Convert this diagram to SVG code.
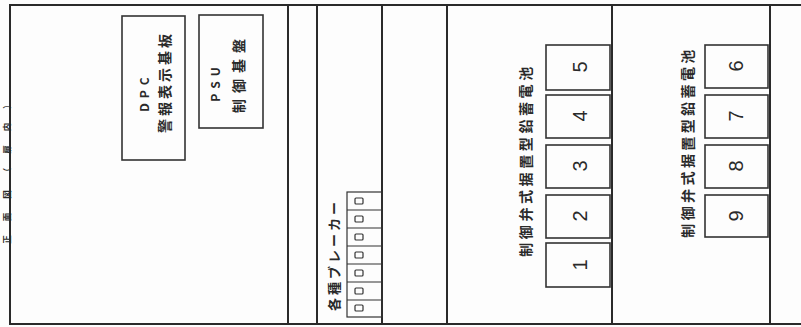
<svg xmlns="http://www.w3.org/2000/svg" width="801" height="327" viewBox="0 0 801 327">
<style>
.frame{fill:none;stroke:#2a2a2a;stroke-width:2}
.box{fill:none;stroke:#333;stroke-width:1.6}
.cell{fill:none;stroke:#333;stroke-width:1.2}
.jp{font-family:"Noto Sans CJK JP","Noto Sans",sans-serif;font-weight:700;fill:#2a2a2a;text-anchor:middle;dominant-baseline:central}
.num{font-family:"Liberation Sans","DejaVu Sans",sans-serif;font-size:20px;fill:#2a2a2a;text-anchor:middle;dominant-baseline:central}
</style>
<rect x="0" y="0" width="801" height="327" fill="#fdfdfd"/>
<g id="title">
<text class="jp" x="5.5" y="165" font-size="8.5" letter-spacing="14" transform="rotate(-90 5.5 165)">正面図（扉内）</text>
</g>
<g id="frame">
<polyline class="frame" points="801,5 10,5 10,324 801,324"/>
<line class="frame" x1="288" y1="5" x2="288" y2="324"/>
<line class="frame" x1="317" y1="5" x2="317" y2="324"/>
<line class="frame" x1="382" y1="5" x2="382" y2="324"/>
<line class="frame" x1="447" y1="5" x2="447" y2="324"/>
<line class="frame" x1="612" y1="5" x2="612" y2="324"/>
<line class="frame" x1="770" y1="5" x2="770" y2="324"/>
</g>
<g id="dpc">
<rect class="box" x="122" y="16" width="63" height="144"/>
<text class="jp" x="143" y="92" font-size="12" letter-spacing="5" transform="rotate(-90 143 92)">DPC</text>
<text class="jp" x="164" y="82" font-size="14" letter-spacing="3" transform="rotate(-90 164 82)">警報表示基板</text>
</g>
<g id="psu">
<rect class="box" x="199" y="15" width="64" height="113"/>
<text class="jp" x="214" y="82" font-size="12" letter-spacing="5" transform="rotate(-90 214 82)">PSU</text>
<text class="jp" x="238" y="73" font-size="14" letter-spacing="6" transform="rotate(-90 238 73)">制御基盤</text>
</g>
<g id="breakers">
<rect class="cell" x="347" y="192" width="35" height="125"/>
<line class="cell" x1="347" y1="210" x2="382" y2="210"/>
<line class="cell" x1="347" y1="228" x2="382" y2="228"/>
<line class="cell" x1="347" y1="246" x2="382" y2="246"/>
<line class="cell" x1="347" y1="264" x2="382" y2="264"/>
<line class="cell" x1="347" y1="282" x2="382" y2="282"/>
<line class="cell" x1="347" y1="300" x2="382" y2="300"/>
<g fill="none" stroke="#333" stroke-width="1.2">
<rect x="355" y="198" width="8" height="6" rx="1"/>
<rect x="355" y="216" width="8" height="6" rx="1"/>
<rect x="355" y="234" width="8" height="6" rx="1"/>
<rect x="355" y="252" width="8" height="6" rx="1"/>
<rect x="355" y="270" width="8" height="6" rx="1"/>
<rect x="355" y="288" width="8" height="6" rx="1"/>
<rect x="355" y="305" width="8" height="6" rx="1"/>
</g>
<text class="jp" x="333" y="255" font-size="13" letter-spacing="3" transform="rotate(-90 333 255)">各種ブレーカー</text>
</g>
<g id="battery-group-1">
<text class="jp" x="525" y="160" font-size="14" letter-spacing="3.6" transform="rotate(-90 525 160)">制御弁式据置型鉛蓄電池</text>
<g id="bat1"><rect class="box" x="546" y="243" width="64" height="44"/><text class="num" x="580" y="265" transform="rotate(-90 580 265)">1</text></g>
<g id="bat2"><rect class="box" x="546" y="195" width="64" height="43"/><text class="num" x="580" y="216" transform="rotate(-90 580 216)">2</text></g>
<g id="bat3"><rect class="box" x="546" y="145" width="64" height="43"/><text class="num" x="580" y="166" transform="rotate(-90 580 166)">3</text></g>
<g id="bat4"><rect class="box" x="546" y="95" width="64" height="43"/><text class="num" x="580" y="116" transform="rotate(-90 580 116)">4</text></g>
<g id="bat5"><rect class="box" x="546" y="45" width="64" height="45"/><text class="num" x="580" y="67" transform="rotate(-90 580 67)">5</text></g>
</g>
<g id="battery-group-2">
<text class="jp" x="687" y="142" font-size="14" letter-spacing="3.4" transform="rotate(-90 687 142)">制御弁式据置型鉛蓄電池</text>
<g id="bat6"><rect class="box" x="705" y="45" width="63" height="43"/><text class="num" x="736" y="66" transform="rotate(-90 736 66)">6</text></g>
<g id="bat7"><rect class="box" x="705" y="95" width="63" height="43"/><text class="num" x="736" y="116" transform="rotate(-90 736 116)">7</text></g>
<g id="bat8"><rect class="box" x="705" y="145" width="63" height="43"/><text class="num" x="736" y="166" transform="rotate(-90 736 166)">8</text></g>
<g id="bat9"><rect class="box" x="705" y="195" width="63" height="42"/><text class="num" x="736" y="216" transform="rotate(-90 736 216)">9</text></g>
</g>
<g id="connectors"></g>
</svg>
